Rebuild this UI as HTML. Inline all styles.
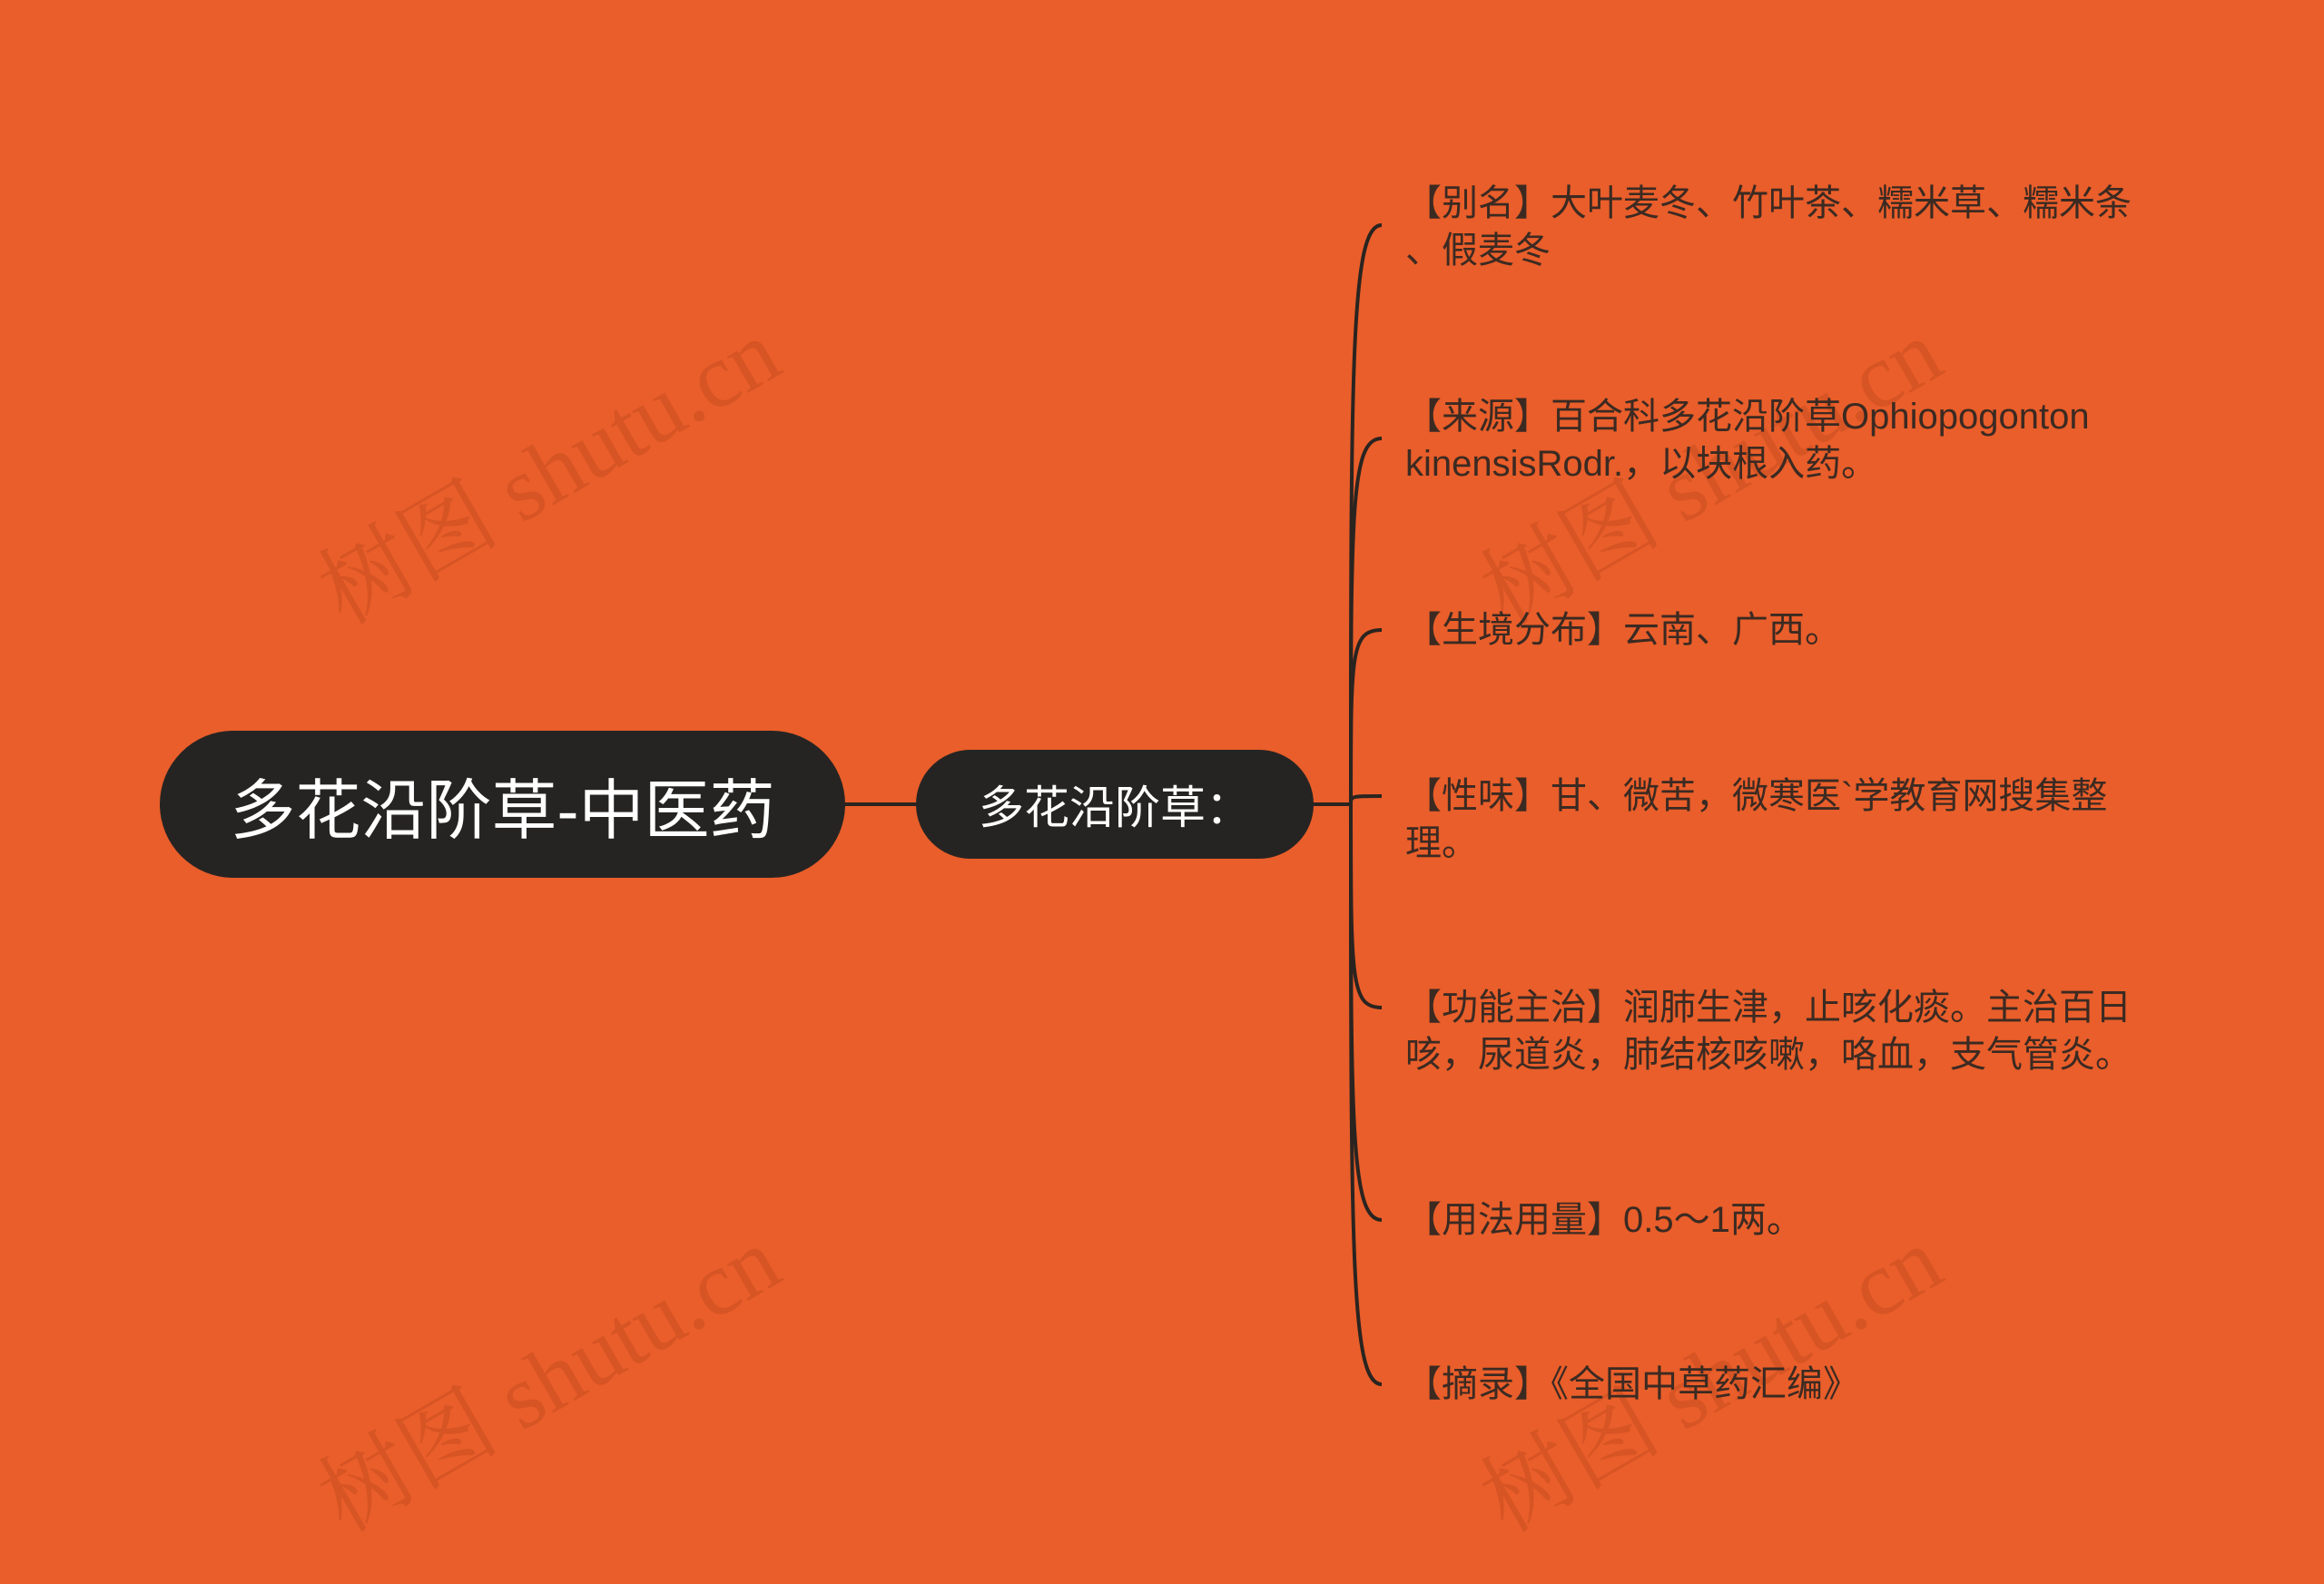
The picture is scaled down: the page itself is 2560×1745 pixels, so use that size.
<!DOCTYPE html>
<html><head><meta charset="utf-8"><style>
body{margin:0;width:2560px;height:1745px;background:#E95E2A;position:relative;overflow:hidden;font-family:"Liberation Sans","Noto Sans CJK SC",sans-serif}
.node{position:absolute;background:#262422;color:#fff;display:flex;align-items:center;justify-content:center;white-space:nowrap}
.item{position:absolute;left:1548px;white-space:nowrap;color:#3b2a22;font-size:40px;line-height:52px;transform:translateY(-50%)}
.wm{position:absolute;color:rgba(150,50,20,0.22);font-size:100px;font-family:"Liberation Serif","Noto Serif CJK SC",serif;transform:rotate(-30deg);white-space:nowrap}
</style></head><body>
<div class="wm" style="left:320px;top:440px">树图 shutu.cn</div>
<div class="wm" style="left:1600px;top:440px">树图 shutu.cn</div>
<div class="wm" style="left:320px;top:1440px">树图 shutu.cn</div>
<div class="wm" style="left:1600px;top:1440px">树图 shutu.cn</div>
<svg width="2560" height="1745" style="position:absolute;left:0;top:0">
<g fill="none" stroke="#2a2420" stroke-width="4">
<line x1="930" y1="886" x2="1010" y2="886"/>
<line x1="1446" y1="886" x2="1488" y2="886"/>
<path d="M1488 886 C1488 400 1488 248 1522 248"/>
<path d="M1488 886 C1488 560 1488 483 1522 483"/>
<path d="M1488 886 C1488 720 1488 694 1522 694"/>
<path d="M1488 886 C1488 877 1488 877 1522 877"/>
<path d="M1488 886 C1488 1080 1488 1110 1522 1110"/>
<path d="M1488 886 C1488 1240 1488 1344 1522 1344"/>
<path d="M1488 886 C1488 1380 1488 1525 1522 1525"/>
</g></svg>
<div class="node" style="left:176px;top:805px;width:755px;height:162px;border-radius:81px;font-size:72px">多花沿阶草-中医药</div>
<div class="node" style="left:1009px;top:826px;width:438px;height:120px;border-radius:60px;font-size:50px">多花沿阶草：</div>
<div class="item" style="top:250px">【别名】大叶麦冬、竹叶茶、糯米草、糯米条<br>、假麦冬</div>
<div class="item" style="top:485px">【来源】百合科多花沿阶草Ophiopogonton<br>kinensisRodr.，以块根入药。</div>
<div class="item" style="top:694px">【生境分布】云南、广西。</div>
<div class="item" style="top:903px">【性味】甘、微苦，微寒医`学教育网搜集整<br>理。</div>
<div class="item" style="top:1136px">【功能主治】润肺生津，止咳化痰。主治百日<br>咳，尿道炎，肺结核咳嗽，咯血，支气管炎。</div>
<div class="item" style="top:1344px">【用法用量】0.5～1两。</div>
<div class="item" style="top:1525px">【摘录】《全国中草药汇编》</div>
</body></html>
